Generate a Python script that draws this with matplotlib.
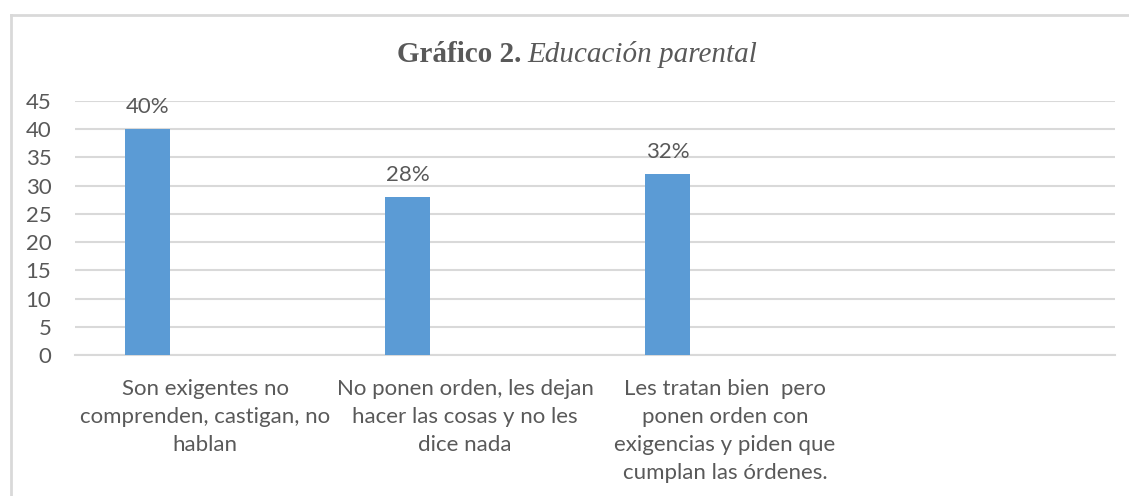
#!/usr/bin/env python3
"""Gráfico 2 - Educación parental: Excel-style column chart."""
import matplotlib
matplotlib.use("Agg")
import matplotlib.pyplot as plt
from matplotlib.lines import Line2D

W, H = 1129, 496

categories = [
    "Son exigentes no\ncomprenden, castigan, no\nhablan",
    "No ponen orden, les dejan\nhacer las cosas y no les\ndice nada",
    "Les tratan bien  pero\nponen orden con\nexigencias y piden que\ncumplan las órdenes.",
    "",
]
values = [40, 28, 32]
value_labels = ["40%", "28%", "32%"]
yticks = [0, 5, 10, 15, 20, 25, 30, 35, 40, 45]

TEXT = "#595959"
GRID = "#d9d9d9"
BAR = "#5b9bd5"

plt.rcParams["font.family"] = ["Lato", "DejaVu Sans"]

fig = plt.figure(figsize=(W / 100, H / 100), dpi=100)

# plot area in pixels: x 75..1115, y 101..355
ax = fig.add_axes([75 / W, 1 - 355 / H, (1115 - 75) / W, (355 - 101) / H])

xs = list(range(len(values)))
ax.bar([x - 0.221 for x in xs], values, width=0.173, color=BAR, zorder=3)
for x, v, lab in zip(xs, values, value_labels):
    ax.annotate(lab, (x - 0.221, v), xytext=(0, 16), textcoords="offset points",
                ha="center", va="center", fontsize=16, color=TEXT)

ax.set_xlim(-0.5, len(categories) - 0.5)
ax.set_ylim(0, 45)
ax.set_yticks(yticks)
ax.set_xticks(range(len(categories)))
ax.set_xticklabels(categories, fontsize=16, color=TEXT, linespacing=1.5)
ax.tick_params(axis="y", labelsize=16, labelcolor=TEXT, length=0, pad=17)
ax.tick_params(axis="x", length=0, pad=17)
ax.grid(axis="y", color=GRID, linewidth=1.5, zorder=0)
for s in ["top", "right", "left"]:
    ax.spines[s].set_visible(False)
ax.spines["bottom"].set_color(GRID)
ax.spines["bottom"].set_linewidth(1.5)

# title: bold part + italic part
ty = 1 - 55 / H
fig.text(521 / W, ty, "Gráfico 2.", ha="right", va="center", fontsize=21,
         fontweight="bold", family="Liberation Serif", color=TEXT)
fig.text(527 / W, ty, "Educación parental", ha="left", va="center", fontsize=21,
         fontstyle="italic", family="Liberation Serif", color=TEXT)

# chart frame (cropped on the right and bottom)
fig.add_artist(Line2D([10.5 / W, 1.01], [1 - 14.5 / H] * 2, transform=fig.transFigure,
                      color=GRID, linewidth=2))
fig.add_artist(Line2D([10.5 / W] * 2, [-0.01, 1 - 14.5 / H], transform=fig.transFigure,
                      color=GRID, linewidth=2))

fig.savefig("out.png", dpi=100)
